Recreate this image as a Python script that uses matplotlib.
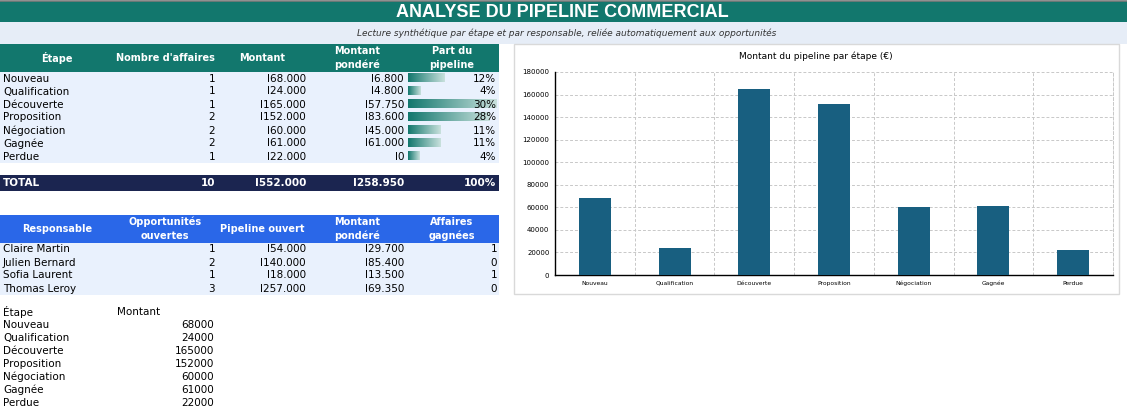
import matplotlib
matplotlib.use("Agg")
import matplotlib.pyplot as plt
import numpy as np
from matplotlib.patches import Rectangle
from matplotlib.colors import LinearSegmentedColormap

etapes = ["Nouveau", "Qualification", "Découverte", "Proposition", "Négociation", "Gagnée", "Perdue"]
nb_affaires = [1, 1, 1, 2, 2, 2, 1]
montants = [68000, 24000, 165000, 152000, 60000, 61000, 22000]
montants_ponderes = [6800, 4800, 57750, 83600, 45000, 61000, 0]
parts = [12, 4, 30, 28, 11, 11, 4]

responsables = ["Claire Martin", "Julien Bernard", "Sofia Laurent", "Thomas Leroy"]
opp_ouvertes = [1, 2, 1, 3]
pipeline_ouvert = [54000, 140000, 18000, 257000]
pond_resp = [29700, 85400, 13500, 69350]
gagnees = [1, 0, 1, 0]

TEAL = "#12776D"
NAVY = "#1B2550"
BLUE = "#2A67E8"
ROWBG = "#E9F1FD"
SUBBG = "#E6EDF7"
BARC = "#185F80"
FONT = "DejaVu Sans"

W, H = 1127, 413
fig = plt.figure(figsize=(W / 100, H / 100), dpi=100)
ax = fig.add_axes([0, 0, 1, 1])
ax.axis("off")


def fmt(v):
    return "I" + f"{v:,}".replace(",", ".")


def cell(x0, y0, w, h, color):
    ax.add_patch(Rectangle((x0, y0), w, h, facecolor=color, edgecolor="none", zorder=1))


def txt(x, y, s, ha="left", size=7.5, color="black", weight="normal", **kw):
    ax.text(x, y, s, ha=ha, va="center", fontsize=size, color=color,
            fontweight=weight, family=FONT, zorder=3, **kw)


# bandeau titre
ax.plot([0, W], [0.5, 0.5], color="#7a7a7a", lw=1.2, zorder=2)
cell(0, 1, W, 21, TEAL)
ax.text(562, 12.5, "ANALYSE DU PIPELINE COMMERCIAL", ha="center", va="center",
        fontsize=13, color="white", fontweight="bold", family="Liberation Sans", zorder=3)
cell(0, 22, W, 22, SUBBG)
ax.text(567, 33, "Lecture synthétique par étape et par responsable, reliée automatiquement aux opportunités",
        ha="center", va="center", fontsize=6.5, style="italic", color="#333333", family=FONT, zorder=3)

# colonnes : centres et bords droits
centres = [57, 165, 262, 357, 452]
droites = [215, 306, 404, 496]
row_h = 13

# tableau 1
cell(0, 44, 499, 28, TEAL)
entetes1 = ["Étape", "Nombre d'affaires", "Montant", "Montant\npondéré", "Part du\npipeline"]
for c, t in zip(centres, entetes1):
    txt(c, 58, t, ha="center", size=7, color="white", weight="bold", linespacing=1.45)
cell(0, 72, 499, row_h * len(etapes), ROWBG)

cmap = LinearSegmentedColormap.from_list("g", [TEAL, "#C9E1DD"])
grad = np.linspace(0, 1, 256).reshape(1, -1)
total_m = sum(montants)
for i, e in enumerate(etapes):
    y = 72 + row_h * i + row_h / 2
    txt(3, y, e)
    txt(droites[0], y, str(nb_affaires[i]), ha="right")
    txt(droites[1], y, fmt(montants[i]), ha="right")
    txt(droites[2], y, fmt(montants_ponderes[i]), ha="right")
    L = montants[i] / total_m / 0.30 * 89
    ax.imshow(grad, extent=(408, 408 + L, 72 + row_h * i + 10.5, 72 + row_h * i + 1.5),
              cmap=cmap, aspect="auto", zorder=2)
    txt(droites[3], y, f"{parts[i]}%", ha="right")

cell(0, 175, 499, 16, NAVY)
tot = [str(sum(nb_affaires)), fmt(sum(montants)), fmt(sum(montants_ponderes)), "100%"]
txt(3, 183, "TOTAL", color="white", weight="bold")
for r, t in zip(droites, tot):
    txt(r, 183, t, ha="right", color="white", weight="bold")

# tableau 2
cell(0, 215, 499, 28, BLUE)
entetes2 = ["Responsable", "Opportunités\nouvertes", "Pipeline ouvert", "Montant\npondéré", "Affaires\ngagnées"]
for c, t in zip(centres, entetes2):
    txt(c, 229, t, ha="center", size=7, color="white", weight="bold", linespacing=1.45)
cell(0, 243, 499, row_h * len(responsables), ROWBG)
for i, r in enumerate(responsables):
    y = 243 + row_h * i + row_h / 2
    txt(3, y, r)
    txt(droites[0], y, str(opp_ouvertes[i]), ha="right")
    txt(droites[1], y, fmt(pipeline_ouvert[i]), ha="right")
    txt(droites[2], y, fmt(pond_resp[i]), ha="right")
    txt(497, y, str(gagnees[i]), ha="right")

# données source du graphique
txt(3, 312, "Étape")
txt(117, 312, "Montant")
for i, e in enumerate(etapes):
    y = 325 + row_h * i
    txt(3, y, e)
    txt(214, y, str(montants[i]), ha="right")

# cadre du graphique
ax.add_patch(Rectangle((514, 44), 605, 250, facecolor="white", edgecolor="#D9D9D9", lw=1, zorder=1))
ax.text(816, 56, "Montant du pipeline par étape (€)", ha="center", va="center",
        fontsize=6.5, family=FONT, zorder=3)

ax.set_xlim(0, W)
ax.set_ylim(H, 0)

cax = fig.add_axes([555 / W, (H - 275) / H, (1113 - 555) / W, (275 - 72) / H])
cax.set_facecolor("none")
xs = np.arange(len(etapes))
cax.bar(xs, montants, width=0.4, color=BARC, zorder=3)
cax.set_xlim(-0.5, len(etapes) - 0.5)
cax.set_ylim(0, 180000)
cax.set_yticks(np.arange(0, 180001, 20000))
cax.set_yticklabels([str(v) for v in range(0, 180001, 20000)], fontsize=5, family=FONT)
cax.set_xticks(xs)
cax.set_xticklabels(etapes, fontsize=4.3, family=FONT)
cax.set_xticks(np.arange(0.5, len(etapes) - 1), minor=True)
cax.tick_params(axis="both", length=0, pad=4)
cax.tick_params(axis="x", which="minor", length=0)
cax.grid(axis="y", color="#C8C8C8", ls=(0, (3, 2)), lw=0.7, zorder=0)
cax.grid(axis="x", which="minor", color="#C8C8C8", ls=(0, (3, 2)), lw=0.7, zorder=0)
cax.spines["top"].set_visible(False)
cax.spines["right"].set_color("#C8C8C8")
cax.spines["right"].set_linestyle((0, (3, 2)))
cax.spines["right"].set_linewidth(0.7)
cax.spines["left"].set_linewidth(1)
cax.spines["bottom"].set_linewidth(1)

fig.savefig("out.png", dpi=100)
